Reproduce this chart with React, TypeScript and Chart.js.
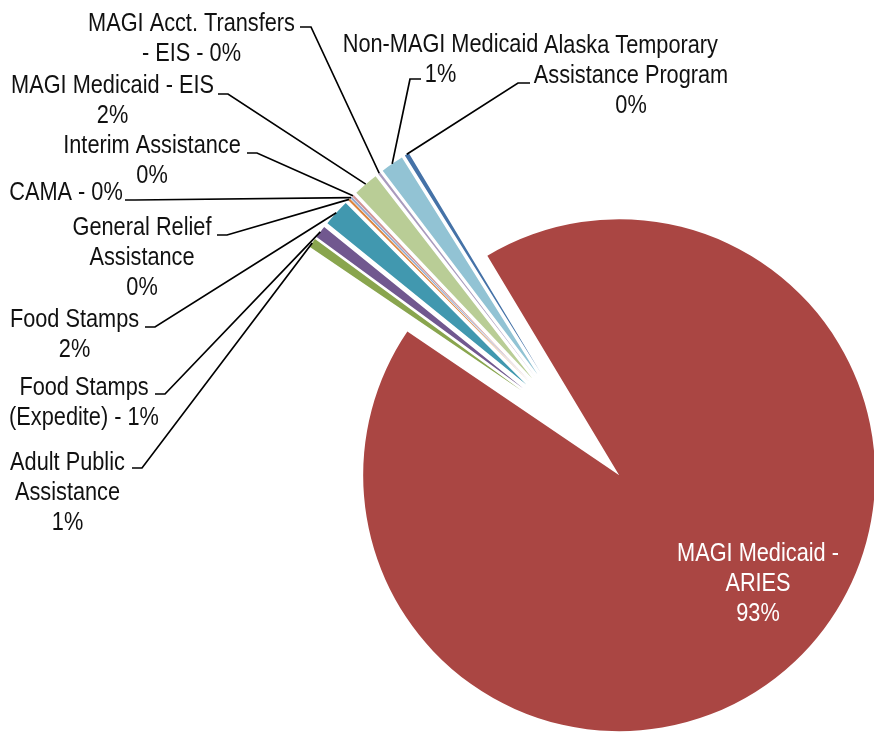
import React, { useEffect, useRef } from 'react';
import { Chart, registerables } from 'chart.js';

Chart.register(...registerables);

// ---- data ----
const categories = [
  'Alaska Temporary Assistance Program',
  'MAGI Medicaid - ARIES',
  'Adult Public Assistance',
  'Food Stamps (Expedite)',
  'Food Stamps',
  'General Relief Assistance',
  'CAMA',
  'Interim Assistance',
  'MAGI Medicaid - EIS',
  'MAGI Acct. Transfers - EIS',
  'Non-MAGI Medicaid',
];
const shares = [0.28, 93.1, 0.58, 0.77, 1.7, 0.14, 0.13, 0.13, 1.58, 0.14, 1.45];
const labelLines = [
  ['Alaska Temporary', 'Assistance Program', '{p}'],
  ['MAGI Medicaid -', 'ARIES', '{p}'],
  ['Adult Public', 'Assistance', '{p}'],
  ['Food Stamps', '(Expedite) - {p}'],
  ['Food Stamps', '{p}'],
  ['General Relief', 'Assistance', '{p}'],
  ['CAMA - {p}'],
  ['Interim Assistance', '{p}'],
  ['MAGI Medicaid - EIS', '{p}'],
  ['MAGI Acct. Transfers', '- EIS - {p}'],
  ['Non-MAGI Medicaid', '{p}'],
];

// ---- styles / layout ----
const colors = ['#4572A7', '#AA4643', '#89A54E', '#71588F', '#4198AF', '#DB843D', '#93A9CF', '#D19392', '#B9CD96', '#A99BBD', '#92C3D4'];
const W = 874;
const H = 734;
const RADIUS = 256;
const EXPLODE = 65;
const ROTATION = 328;
const FONT = '26.5px "Liberation Sans", Arial, sans-serif';
const NARROW = 0.82; // Arial-Narrow-like horizontal compression
const LINE_H = 30;
// text centre x, first baseline y, leader elbow [x from, x to, y]
const labelLayout = [
  { cx: 631, y: 53, elbow: [530, 518, 83] },
  { cx: 758, y: 561, inside: true },
  { cx: 67.5, y: 470, elbow: [132, 142, 468] },
  { cx: 84, y: 395, elbow: [155, 165, 394] },
  { cx: 74.5, y: 326.5, elbow: [145, 155, 327] },
  { cx: 142, y: 235, elbow: [217, 227, 235] },
  { cx: 66, y: 200, elbow: [125, 135, 200] },
  { cx: 152, y: 153, elbow: [247, 257, 153] },
  { cx: 112.5, y: 93, elbow: [218, 228, 94] },
  { cx: 191.5, y: 31, elbow: [300, 311, 27] },
  { cx: 440.5, y: 52, elbow: [421, 410, 79] },
];

const explodePlugin = {
  id: 'explode',
  afterDatasetUpdate(chart: any, args: any) {
    const meta = args.meta;
    meta.data.forEach((arc: any) => {
      const mid = (arc.startAngle + arc.endAngle) / 2;
      arc.x += Math.cos(mid) * EXPLODE;
      arc.y += Math.sin(mid) * EXPLODE;
    });
  },
};

const labelPlugin = {
  id: 'pieLabels',
  afterDraw(chart: any) {
    const ctx = chart.ctx;
    const meta = chart.getDatasetMeta(0);
    const data = chart.data.datasets[0].data as number[];
    const total = data.reduce((a: number, b: number) => a + b, 0);
    ctx.save();
    ctx.font = FONT;
    ctx.textAlign = 'center';
    ctx.textBaseline = 'alphabetic';
    meta.data.forEach((arc: any, i: number) => {
      const lay: any = labelLayout[i];
      const pct = Math.round((data[i] / total) * 100) + '%';
      const lines = labelLines[i].map((l) => l.replace('{p}', pct));
      ctx.fillStyle = lay.inside ? '#ffffff' : '#111111';
      lines.forEach((l, k) => {
        ctx.save();
        ctx.translate(lay.cx, lay.y + k * LINE_H);
        ctx.scale(NARROW, 1);
        ctx.fillText(l, 0, 0);
        ctx.restore();
      });
      if (lay.elbow) {
        const mid = (arc.startAngle + arc.endAngle) / 2;
        const ex = arc.x + Math.cos(mid) * arc.outerRadius;
        const ey = arc.y + Math.sin(mid) * arc.outerRadius;
        ctx.beginPath();
        ctx.strokeStyle = '#000000';
        ctx.lineWidth = 1.7;
        ctx.moveTo(lay.elbow[0], lay.elbow[2]);
        ctx.lineTo(lay.elbow[1], lay.elbow[2]);
        ctx.lineTo(ex, ey);
        ctx.stroke();
      }
    });
    ctx.restore();
  },
};

export default function App() {
  const ref = useRef<HTMLCanvasElement | null>(null);
  useEffect(() => {
    if (!ref.current) return;
    const cx = 574.5;
    const cy = 428;
    const chart = new Chart(ref.current, {
      type: 'pie',
      data: {
        labels: categories,
        datasets: [
          {
            data: shares,
            backgroundColor: colors,
            borderWidth: 0,
            radius: RADIUS,
            clip: false,
          } as any,
        ],
      },
      options: {
        animation: false,
        responsive: false,
        rotation: ROTATION,
        layout: {
          padding: { left: 2 * cx - W, right: 0, top: 2 * cy - H, bottom: 0 },
        },
        plugins: {
          legend: { display: false },
          tooltip: { enabled: false },
        },
      } as any,
      plugins: [explodePlugin, labelPlugin],
    });
    return () => chart.destroy();
  }, []);
  return (
    <div style={{ position: 'absolute', left: 0, top: 0, width: W, height: H, background: '#fff' }}>
      <canvas ref={ref} width={W} height={H} />
    </div>
  );
}
